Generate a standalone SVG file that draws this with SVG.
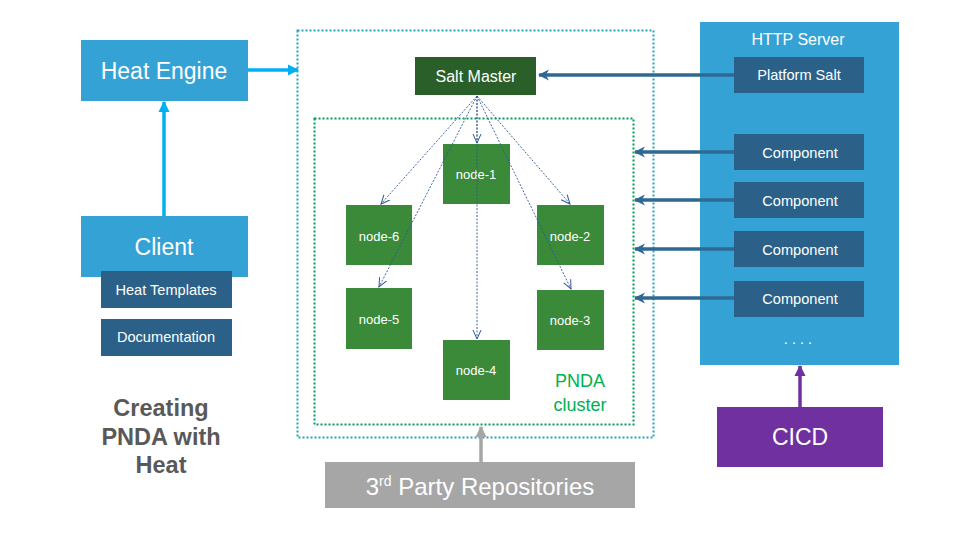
<svg xmlns="http://www.w3.org/2000/svg" width="960" height="540" viewBox="0 0 960 540">
<defs>
<style>
text{font-family:"Liberation Sans",Arial,sans-serif;fill:#fff;text-anchor:middle}
.blue{fill:#35a2d6}
.dark{fill:#2b6189}
.node{fill:#3a8a3a}
.nt{font-size:13px}
.ct{font-size:14.6px}
.cyan{stroke:#00b0f0;stroke-width:3.5;fill:none}
.dk{stroke:#2e6893;stroke-width:3.5;fill:none}
.thin{stroke:#2f5597;stroke-width:0.9;stroke-dasharray:2 1.5;fill:none}
.ttl{fill:#595959;font-size:23.5px;font-weight:bold}
</style>
<marker id="mc" viewBox="0 0 10 10" refX="9" refY="5" markerWidth="3.2" markerHeight="3.2" orient="auto"><path d="M0,0L10,5L0,10z" fill="#00b0f0"/></marker>
<marker id="md" viewBox="0 0 10 10" refX="9" refY="5" markerWidth="3.2" markerHeight="3.2" orient="auto"><path d="M0,0L10,5L0,10L3,5z" fill="#2e6893"/></marker>
<marker id="mg" viewBox="0 0 10 10" refX="9" refY="5" markerWidth="3.2" markerHeight="3.2" orient="auto"><path d="M0,0L10,5L0,10z" fill="#a6a6a6"/></marker>
<marker id="mp" viewBox="0 0 10 10" refX="9" refY="5" markerWidth="3.2" markerHeight="3.2" orient="auto"><path d="M0,0L10,5L0,10z" fill="#7030a0"/></marker>
<marker id="mt" viewBox="0 0 10 10" refX="9" refY="5" markerWidth="10" markerHeight="10" orient="auto" markerUnits="userSpaceOnUse"><path d="M0,1L9,5L0,9" fill="none" stroke="#2f5597" stroke-width="1"/></marker>
</defs>
<rect width="960" height="540" fill="#fff"/>

<g id="pnda-env">
<rect x="297.5" y="30.5" width="356" height="407" fill="none" stroke="#2ba3b8" stroke-width="2" stroke-dasharray="2 2"/>
</g>
<g id="pnda-cluster">
<rect x="314.5" y="118.5" width="319" height="306" fill="none" stroke="#00a05a" stroke-width="2" stroke-dasharray="2 2"/>
<text x="580" y="387" style="fill:#00b050;font-size:18px">PNDA</text>
<text x="580" y="411" style="fill:#00b050;font-size:18px">cluster</text>
</g>

<g id="heat-engine"><rect class="blue" x="81" y="40" width="167" height="61"/><text x="164" y="79" style="font-size:23px">Heat Engine</text></g>
<g id="client"><rect class="blue" x="81" y="216" width="167" height="61"/><text x="164" y="255" style="font-size:23px">Client</text></g>
<g id="heat-templates"><rect class="dark" x="101" y="271" width="131" height="37"/><text x="166" y="295" class="ct">Heat Templates</text></g>
<g id="documentation"><rect class="dark" x="101" y="319" width="131" height="37"/><text x="166" y="342" class="ct">Documentation</text></g>
<g id="title"><text x="161" y="416" class="ttl">Creating</text><text x="161" y="445" class="ttl">PNDA with</text><text x="161" y="473" class="ttl">Heat</text></g>

<g id="salt-master"><rect x="415" y="57" width="121" height="38" fill="#2a5f2a"/><text x="476" y="82" style="font-size:16px">Salt Master</text></g>
<g id="node-1"><rect class="node" x="443" y="144" width="67" height="60"/><text x="476" y="179" class="nt">node-1</text></g>
<g id="node-6"><rect class="node" x="346" y="205" width="66" height="60"/><text x="379" y="241" class="nt">node-6</text></g>
<g id="node-2"><rect class="node" x="537" y="205" width="67" height="60"/><text x="570" y="241" class="nt">node-2</text></g>
<g id="node-5"><rect class="node" x="346" y="288" width="66" height="61"/><text x="379" y="324" class="nt">node-5</text></g>
<g id="node-3"><rect class="node" x="537" y="290" width="67" height="60"/><text x="570" y="325" class="nt">node-3</text></g>
<g id="node-4"><rect class="node" x="443" y="340" width="67" height="60"/><text x="476" y="375" class="nt">node-4</text></g>

<g id="http-server"><rect class="blue" x="700" y="22" width="199" height="343"/><text x="798" y="45" style="font-size:16px">HTTP Server</text><text x="798" y="344" class="ct">. . . .</text></g>
<g id="platform-salt"><rect class="dark" x="734" y="57" width="130" height="36"/><text x="799" y="80" class="ct">Platform Salt</text></g>
<g id="component-1"><rect class="dark" x="734" y="134" width="130" height="36"/><text x="800" y="158" class="ct">Component</text></g>
<g id="component-2"><rect class="dark" x="734" y="182" width="130" height="36"/><text x="800" y="206" class="ct">Component</text></g>
<g id="component-3"><rect class="dark" x="734" y="231" width="130" height="36"/><text x="800" y="255" class="ct">Component</text></g>
<g id="component-4"><rect class="dark" x="734" y="281" width="130" height="36"/><text x="800" y="304" class="ct">Component</text></g>

<g id="cicd"><rect x="717" y="407" width="166" height="60" fill="#7030a0"/><text x="800" y="445" style="font-size:23px">CICD</text></g>
<g id="third-party"><rect x="325" y="462" width="310" height="46" fill="#a6a6a6"/><text x="480" y="495" style="font-size:24px">3<tspan dy="-9" style="font-size:14px">rd</tspan><tspan dy="9"> Party Repositories</tspan></text></g>

<g id="connectors">
<line class="cyan" x1="248" y1="70" x2="298" y2="70" marker-end="url(#mc)"/>
<line class="cyan" x1="164" y1="216" x2="164" y2="102" marker-end="url(#mc)"/>
<line class="dk" x1="734" y1="75" x2="539" y2="75" marker-end="url(#md)"/>
<line class="dk" x1="734" y1="152" x2="635" y2="152" marker-end="url(#md)"/>
<line class="dk" x1="734" y1="200" x2="635" y2="200" marker-end="url(#md)"/>
<line class="dk" x1="734" y1="249" x2="635" y2="249" marker-end="url(#md)"/>
<line class="dk" x1="734" y1="298" x2="635" y2="298" marker-end="url(#md)"/>
<line x1="800" y1="407" x2="800" y2="366" stroke="#7030a0" stroke-width="3.5" marker-end="url(#mp)"/>
<line x1="481" y1="462" x2="481" y2="427" stroke="#a6a6a6" stroke-width="3.5" marker-end="url(#mg)"/>
<line class="thin" x1="477" y1="96" x2="477" y2="143" marker-end="url(#mt)"/>
<line class="thin" x1="477" y1="96" x2="381" y2="204" marker-end="url(#mt)"/>
<line class="thin" x1="477" y1="96" x2="570" y2="204" marker-end="url(#mt)"/>
<line class="thin" x1="477" y1="96" x2="379" y2="287" marker-end="url(#mt)"/>
<line class="thin" x1="477" y1="96" x2="571" y2="289" marker-end="url(#mt)"/>
<line class="thin" x1="477" y1="96" x2="477" y2="339" marker-end="url(#mt)"/>
</g>
</svg>
